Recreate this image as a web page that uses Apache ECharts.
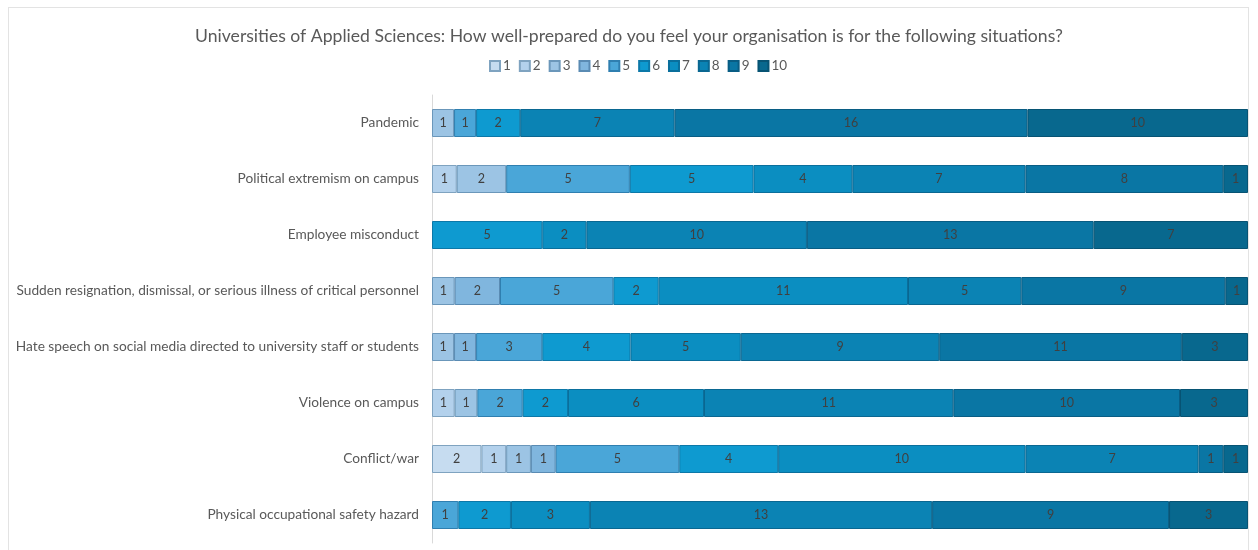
<!DOCTYPE html>
<html>
<head>
<meta charset="utf-8">
<script src="https://cdn.jsdelivr.net/npm/echarts@6/dist/echarts.min.js"></script>
<style>
  html, body { margin: 0; padding: 0; background: #ffffff; }
  #frame { position: absolute; left: 8px; top: 7px; width: 1241px; height: 560px; border: 1px solid #e3e3e3; box-sizing: border-box; }
  #chart { position: absolute; left: 0; top: 0; width: 1258px; height: 550px; }
</style>
</head>
<body>
<div id="frame"></div>
<div id="chart"></div>
<script>
// Survey situations (top to bottom)
const categories = [
  'Pandemic',
  'Political extremism on campus',
  'Employee misconduct',
  'Sudden resignation, dismissal, or serious illness of critical personnel',
  'Hate speech on social media directed to university staff or students',
  'Violence on campus',
  'Conflict/war',
  'Physical occupational safety hazard'
];

// Rating scale 1..10
const ratings = ['1', '2', '3', '4', '5', '6', '7', '8', '9', '10'];

// Number of responses per rating, one array per rating, in category order
const r1  = [null, null, null, null, null, null, 2,  null];
const r2  = [null, 1,    null, null, null, 1,    1,  null];
const r3  = [1,    2,    null, 1,    1,    1,    1,  null];
const r4  = [null, null, null, 2,    1,    null, 1,  null];
const r5  = [1,    5,    null, 5,    3,    2,    5,  1];
const r6  = [2,    5,    5,    2,    4,    2,    4,  2];
const r7  = [null, 4,    2,    11,   5,    6,    10, 3];
const r8  = [7,    7,    10,   5,    9,    11,   7,  13];
const r9  = [16,   8,    13,   9,    11,   10,   1,  9];
const r10 = [10,   1,    7,    1,    3,    3,    1,  3];

const counts = [r1, r2, r3, r4, r5, r6, r7, r8, r9, r10];

const colors = ['#c6dcf0', '#b3d1ec', '#9cc4e4', '#80b6de', '#4aa6d8',
                '#0e9ad0', '#0b8ec1', '#0b83b4', '#0a76a4', '#08688e'];
const borders = ['#7fa3c0', '#7fa3c0', '#6b97ba', '#5a8bb3', '#2f7fb0',
                 '#0c78a8', '#0a6f9c', '#0a6791', '#095d84', '#075373'];

// Per-category totals, used to draw each row as a 100% stack
const totals = categories.map((_, i) =>
  counts.reduce((s, arr) => s + (arr[i] || 0), 0));

const series = ratings.map((name, k) => ({
  name: name,
  type: 'bar',
  stack: 'total',
  barWidth: 28,
  data: counts[k].map((c, i) => c == null ? null : { value: c / totals[i], count: c }),
  itemStyle: { color: colors[k], borderColor: borders[k], borderWidth: 1 },
  label: {
    show: true,
    position: 'inside',
    color: '#404040',
    fontSize: 12.5,
    fontFamily: 'Lato',
    formatter: p => p.data && p.data.count != null ? String(p.data.count) : ''
  },
  emphasis: { disabled: true }
}));

const chart = echarts.init(document.getElementById('chart'), null, { renderer: 'canvas' });
chart.setOption({
  animation: false,
  title: {
    text: 'Universities of Applied Sciences: How well-prepared do you feel your organisation is for the following situations?',
    left: 'center',
    top: 22,
    textStyle: { fontFamily: 'Lato', fontSize: 17.6, fontWeight: 'normal', color: '#595959' }
  },
  legend: {
    top: 59,
    left: 489,
    padding: 0,
    icon: 'rect',
    itemWidth: 10,
    itemHeight: 10,
    itemGap: 8,
    selectedMode: false,
    textStyle: { fontFamily: 'Lato', fontSize: 13.5, color: '#595959', padding: [0, 0, 0, -2] },
    data: ratings
  },
  grid: { left: 432, right: 10, top: 95, bottom: 7, containLabel: false },
  xAxis: {
    type: 'value',
    min: 0,
    max: 1,
    show: false
  },
  yAxis: {
    type: 'category',
    inverse: true,
    data: categories,
    axisLine: { show: true, lineStyle: { color: '#d9d9d9', width: 1 } },
    axisTick: { show: false },
    axisLabel: { fontFamily: 'Lato', fontSize: 13.7, color: '#595959', margin: 13 }
  },
  series: series
});
</script>
</body>
</html>
